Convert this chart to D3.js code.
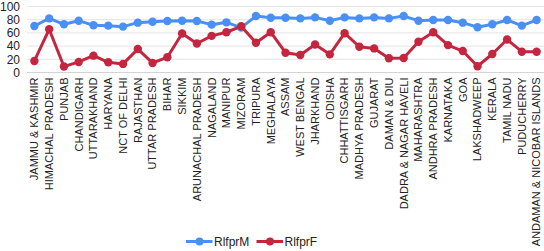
<!DOCTYPE html>
<html>
<head>
<meta charset="UTF-8">
<script src="https://d3js.org/d3.v7.min.js"></script>
<style>
  body { margin: 0; background: #fff; }
  text { font-family: "Liberation Sans", Arial, sans-serif; fill: #222; }
</style>
</head>
<body>
<svg></svg>
<script>
  // states on the x axis
  const states = ['JAMMU & KASHMIR', 'HIMACHAL PRADESH', 'PUNJAB', 'CHANDIGARH', 'UTTARAKHAND',
    'HARYANA', 'NCT OF DELHI', 'RAJASTHAN', 'UTTAR PRADESH', 'BIHAR', 'SIKKIM',
    'ARUNACHAL PRADESH', 'NAGALAND', 'MANIPUR', 'MIZORAM', 'TRIPURA', 'MEGHALAYA', 'ASSAM',
    'WEST BENGAL', 'JHARKHAND', 'ODISHA', 'CHHATTISGARH', 'MADHYA PRADESH', 'GUJARAT',
    'DAMAN & DIU', 'DADRA & NAGAR HAVELI', 'MAHARASHTRA', 'ANDHRA PRADESH', 'KARNATAKA',
    'GOA', 'LAKSHADWEEP', 'KERALA', 'TAMIL NADU', 'PUDUCHERRY', 'ANDAMAN & NICOBAR ISLANDS']

  const rlfprM = [70.5, 82, 73, 78.5, 71.5, 71, 69.5, 75.5, 77, 78, 78.5, 78, 72.5, 76, 68,
    85.5, 83, 83, 82, 83.5, 78.5, 83.5, 82, 83.5, 82, 85.5, 78.5, 79.5, 79.5, 75.5, 68.5,
    73, 79.5, 71, 79.5]
  const rlfprF = [17.5, 65.5, 9, 16, 25.5, 15.5, 13, 35.5, 14.5, 23, 59, 44, 55.5, 61, 70,
    45, 61, 30, 26.5, 42.5, 27.5, 59.5, 39, 36.5, 21.5, 22, 46.5, 61, 41.5, 32.5, 9.5,
    28, 50, 31.5, 31.5]

  const yTicks = [0, 20, 40, 60, 80, 100]

  const series = [
    { name: 'RlfprM', values: rlfprM, color: '#4a8ff3' },
    { name: 'RlfprF', values: rlfprF, color: '#c4263f' }
  ]

  const width = 544
  const height = 251
  const margin = { left: 27, right: 0, top: 6.5, bottom: 178.5 }

  const svg = d3.select('svg')
    .attr('width', width)
    .attr('height', height)

  const x = d3.scalePoint()
    .domain(states)
    .range([margin.left, width - margin.right])
    .padding(0.5)

  const y = d3.scaleLinear()
    .domain([0, 100])
    .range([height - margin.bottom, margin.top])

  // grid
  svg.append('g')
    .selectAll('line')
    .data(yTicks)
    .join('line')
    .attr('x1', margin.left)
    .attr('x2', width - margin.right)
    .attr('y1', d => y(d))
    .attr('y2', d => y(d))
    .attr('stroke', d => d === 0 ? '#d4d4d4' : '#e4e4e4')
    .attr('stroke-width', 1)

  // y axis labels
  svg.append('g')
    .selectAll('text')
    .data(yTicks)
    .join('text')
    .attr('x', 20)
    .attr('y', d => y(d))
    .attr('dy', '0.35em')
    .attr('text-anchor', 'end')
    .style('font-size', '12px')
    .text(d => d)

  // x axis labels, rotated
  svg.append('g')
    .selectAll('text')
    .data(states)
    .join('text')
    .attr('transform', d => `translate(${x(d)},${y(0) + 5}) rotate(-90)`)
    .attr('dy', '0.35em')
    .attr('text-anchor', 'end')
    .style('font-size', '11px')
    .text(d => d)

  const line = d3.line()
    .x((d, i) => x(states[i]))
    .y(d => y(d))

  series.forEach(s => {
    const g = svg.append('g')
    g.append('path')
      .datum(s.values)
      .attr('fill', 'none')
      .attr('stroke', s.color)
      .attr('stroke-width', 3)
      .attr('stroke-linejoin', 'round')
      .attr('d', line)
    g.selectAll('circle')
      .data(s.values)
      .join('circle')
      .attr('cx', (d, i) => x(states[i]))
      .attr('cy', d => y(d))
      .attr('r', 4.2)
      .attr('fill', s.color)
  })

  // legend
  const legend = svg.append('g')
    .attr('transform', 'translate(186,241.5)')
  const item = legend.selectAll('g')
    .data(series)
    .join('g')
    .attr('transform', (d, i) => `translate(${i * 70.5},0)`)
  item.append('line')
    .attr('x1', 0).attr('x2', 26.5)
    .attr('stroke', d => d.color)
    .attr('stroke-width', 3)
  item.append('circle')
    .attr('cx', 13.5)
    .attr('r', 4)
    .attr('fill', d => d.color)
  item.append('text')
    .attr('x', 28)
    .attr('dy', '0.35em')
    .style('font-size', '12px')
    .text(d => d.name)
</script>
</body>
</html>
